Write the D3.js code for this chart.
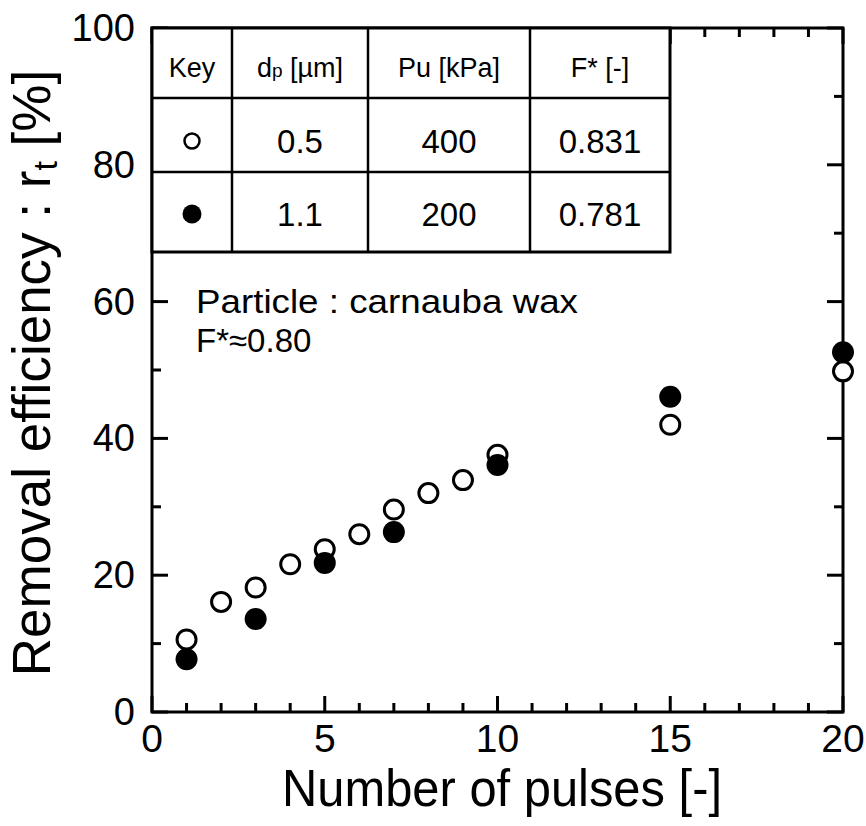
<!DOCTYPE html>
<head>
  <meta charset="utf-8">
  <script src="https://cdn.jsdelivr.net/npm/d3@7/dist/d3.min.js"></script>
  <style>
    body { margin: 0; background: #fff; }
    svg { display: block; font-family: 'Liberation Sans', Arial, sans-serif; }
  </style>
</head>
<body>
<div id="chart"></div>
<script>
// removal efficiency vs number of pulses, carnauba wax

// open circles: dp 0.5 um, Pu 400 kPa
const pulses_open = [1, 2, 3, 4, 5, 6, 7, 8, 9, 10, 15, 20]
const eff_open = [10.6, 16.1, 18.2, 21.6, 23.8, 26.0, 29.6, 32.0, 33.9, 37.6, 42.0, 49.8]
// filled circles: dp 1.1 um, Pu 200 kPa
const pulses_filled = [1, 3, 5, 7, 10, 15, 20]
const eff_filled = [7.7, 13.6, 21.8, 26.3, 36.1, 46.1, 52.6]

const x_major = [0, 5, 10, 15, 20]
const y_major = [0, 20, 40, 60, 80, 100]

// key table
const table_head = ['Key', 'dp [µm]', 'Pu [kPa]', 'F* [-]']
const table_keys = ['open', 'filled']
const table_dp = ['0.5', '1.1']
const table_pu = ['400', '200']
const table_f = ['0.831', '0.781']

const W = 866, H = 826
const m = { left: 152, top: 28, right: 23, bottom: 114 }
const iw = W - m.left - m.right, ih = H - m.top - m.bottom

const svg = d3.select('#chart').append('svg')
  .attr('width', W).attr('height', H)
  .attr('viewBox', [0, 0, W, H])

const x = d3.scaleLinear().domain([0, 20]).range([m.left, m.left + iw])
const y = d3.scaleLinear().domain([0, 100]).range([m.top + ih, m.top])

const x_minor = d3.range(0, 21).filter(v => !x_major.includes(v))
const y_minor = d3.range(10, 100, 20)

const g = svg.append('g')

// ticks, all pointing inwards on the four sides
const tick = (sel) => sel.attr('stroke', '#000').attr('stroke-width', 3)
const major_len = 16, minor_len = 9
for (const [vals, len] of [[x_major, major_len], [x_minor, minor_len]]) {
  g.append('g').selectAll('line').data(vals).join('line').call(tick)
    .attr('x1', d => x(d)).attr('x2', d => x(d))
    .attr('y1', y(0)).attr('y2', y(0) - len)
  g.append('g').selectAll('line').data(vals).join('line').call(tick)
    .attr('x1', d => x(d)).attr('x2', d => x(d))
    .attr('y1', y(100)).attr('y2', y(100) + len)
}
for (const [vals, len] of [[y_major, major_len], [y_minor, minor_len]]) {
  g.append('g').selectAll('line').data(vals).join('line').call(tick)
    .attr('y1', d => y(d)).attr('y2', d => y(d))
    .attr('x1', x(0)).attr('x2', x(0) + len)
  g.append('g').selectAll('line').data(vals).join('line').call(tick)
    .attr('y1', d => y(d)).attr('y2', d => y(d))
    .attr('x1', x(20)).attr('x2', x(20) - len)
}

// frame
g.append('rect')
  .attr('x', x(0)).attr('y', y(100))
  .attr('width', x(20) - x(0)).attr('height', y(0) - y(100))
  .attr('fill', 'none').attr('stroke', '#000').attr('stroke-width', 3)

// tick labels
g.append('g').selectAll('text').data(x_major).join('text')
  .attr('x', d => x(d)).attr('y', 752)
  .attr('text-anchor', 'middle').attr('font-size', 39)
  .text(d => d)
g.append('g').selectAll('text').data(y_major).join('text')
  .attr('x', 135).attr('y', d => y(d) + 13)
  .attr('text-anchor', 'end').attr('font-size', 38)
  .text(d => d)

// axis titles
svg.append('text')
  .attr('x', 502).attr('y', 806)
  .attr('text-anchor', 'middle').attr('font-size', 52)
  .attr('textLength', 440).attr('lengthAdjust', 'spacingAndGlyphs')
  .text('Number of pulses [-]')

const yt = svg.append('text')
  .attr('transform', 'translate(50,373) rotate(-90)')
  .attr('text-anchor', 'middle').attr('font-size', 53)
yt.append('tspan').text('Removal efficiency : r')
yt.append('tspan').attr('font-size', 34).attr('dy', 7).text('t')
yt.append('tspan').attr('dy', -7).text(' [%]')

// annotation
svg.append('text').attr('x', 196).attr('y', 313).attr('font-size', 33)
  .attr('textLength', 382).attr('lengthAdjust', 'spacingAndGlyphs')
  .text('Particle : carnauba wax')
svg.append('text').attr('x', 196).attr('y', 352).attr('font-size', 33)
  .text('F*≈0.80')

// data points
const pts = svg.append('g')
pts.selectAll('circle.open').data(pulses_open).join('circle')
  .attr('class', 'open')
  .attr('cx', d => x(d)).attr('cy', (d, i) => y(eff_open[i])).attr('r', 9.5)
  .attr('fill', '#fff').attr('stroke', '#000').attr('stroke-width', 3)
pts.selectAll('circle.filled').data(pulses_filled).join('circle')
  .attr('class', 'filled')
  .attr('cx', d => x(d)).attr('cy', (d, i) => y(eff_filled[i])).attr('r', 11)
  .attr('fill', '#000')

// key table over the top-left corner
const col_x = [152, 232, 368, 530, 670]
const row_y = [28, 98, 172, 252]
const tb = svg.append('g')
tb.append('rect')
  .attr('x', col_x[0]).attr('y', row_y[0])
  .attr('width', col_x[4] - col_x[0]).attr('height', row_y[3] - row_y[0])
  .attr('fill', '#fff').attr('stroke', '#000').attr('stroke-width', 3)
tb.selectAll('line.v').data(col_x.slice(1, 4)).join('line')
  .attr('class', 'v')
  .attr('x1', d => d).attr('x2', d => d).attr('y1', row_y[0]).attr('y2', row_y[3])
  .attr('stroke', '#000').attr('stroke-width', 2.5)
tb.selectAll('line.h').data(row_y.slice(1, 3)).join('line')
  .attr('class', 'h')
  .attr('y1', d => d).attr('y2', d => d).attr('x1', col_x[0]).attr('x2', col_x[4])
  .attr('stroke', '#000').attr('stroke-width', 2.5)

const mid = i => (col_x[i] + col_x[i + 1]) / 2
// header
table_head.forEach((h, i) => {
  const t = tb.append('text').attr('x', mid(i)).attr('y', 77)
    .attr('text-anchor', 'middle').attr('font-size', 27)
  if (i === 1) {
    t.append('tspan').text('d')
    t.append('tspan').attr('font-size', 19).text('p')
    t.append('tspan').text(' [µm]')
  } else {
    t.text(h)
  }
})
// rows
const base_y = [153, 226]
table_keys.forEach((k, r) => {
  const cy = base_y[r] - 12
  tb.append('circle').attr('cx', mid(0)).attr('cy', cy)
    .attr('r', k === 'open' ? 7.5 : 9.5)
    .attr('fill', k === 'open' ? '#fff' : '#000')
    .attr('stroke', '#000').attr('stroke-width', k === 'open' ? 2.5 : 0)
  ;[table_dp[r], table_pu[r], table_f[r]].forEach((v, c) => {
    tb.append('text').attr('x', mid(c + 1)).attr('y', base_y[r])
      .attr('text-anchor', 'middle').attr('font-size', 33)
      .text(v)
  })
})
</script>
</body>
